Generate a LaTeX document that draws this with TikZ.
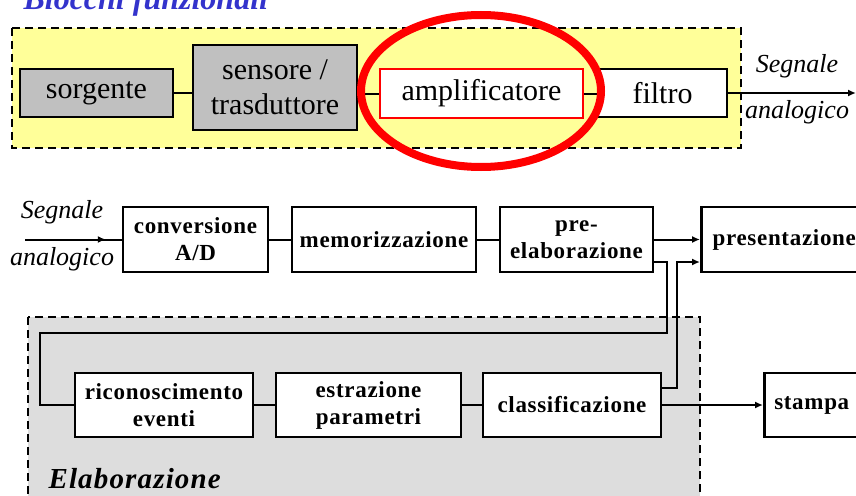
\documentclass[tikz,border=0pt]{standalone}
\usepackage{fontspec}
\setmainfont{Liberation Serif}
\usetikzlibrary{arrows.meta}
\definecolor{titleblue}{RGB}{51,51,204}
\definecolor{boxgray}{RGB}{192,192,192}
\definecolor{areayellow}{RGB}{255,255,153}
\definecolor{areagray}{RGB}{221,221,221}

\begin{document}
\begin{tikzpicture}[%
    x=1pt, y=-1pt,
    block/.style={
      rectangle,
      draw=black,
      line width=2.5pt,
      fill=white,
      align=center,
      inner sep=0pt,
      font=\fontsize{23}{27}\selectfont\bfseries\addfontfeature{LetterSpace=3}
    },
    topblock/.style={
      block,
      fill=boxgray,
      font=\fontsize{30}{35}\selectfont
    },
    wire/.style={
      draw,
      line width=2pt
    },
    line/.style={
      draw,
      line width=2pt,
      -{Latex[length=8pt,width=7pt]}
    },
    group/.style={
      draw=black,
      line width=2.5pt,
      dash pattern=on 8pt off 5pt
    },
    label/.style={
      anchor=base,
      font=\fontsize{26}{30}\selectfont\itshape
    }
  ]
    \useasboundingbox (0,0) rectangle (856,495);
    \clip (0,0) rectangle (856,495);

    % areas
    \draw[group, fill=areayellow] (12,28) rectangle (741,148);
    \draw[group, fill=areagray] (28,317) rectangle (700,530);
    \node[anchor=base west, text=titleblue,
      font=\fontsize{32}{36}\selectfont\bfseries\itshape] (titolo) at (20,10) {Blocchi funzionali};
    \node[anchor=base west,
      font=\fontsize{29}{32}\selectfont\bfseries\itshape\addfontfeature{LetterSpace=4}] (elab) at (45,488) {Elaborazione};

    % blocchi funzionali
    \draw (96.5,93) node[topblock, minimum width=153pt, minimum height=48pt] (sorg) {sorgente};
    \draw (275,87.5) node[topblock, minimum width=164pt, minimum height=85pt] (sens) {sensore /\\trasduttore};
    \draw (481.5,93.5) node[topblock, fill=white, draw=red, line width=1.5pt,
      minimum width=203pt, minimum height=49pt] (ampl) {amplificatore};
    \draw (662.5,93) node[topblock, fill=white, minimum width=129pt, minimum height=48pt] (filt) {filtro};
    \coordinate (out1) at (856,93);

    \draw[wire] (sorg.east) -- (sorg.east -| sens.west);
    \draw[wire] (ampl.west -| sens.east) -- (ampl.west);
    \draw[wire] (ampl.east) -- (ampl.east -| filt.west);
    \draw[line] (filt) -- (out1);
    \node[label] (segn1) at (797,72) {Segnale};
    \node[label] (anal1) at (797,118) {analogico};

    % catena di acquisizione
    \draw (195.5,239.5) node[block, minimum width=145pt, minimum height=65pt] (conv) {conversione\\A/D};
    \draw (384,239.5) node[block, minimum width=184pt, minimum height=65pt] (memo) {memorizzazione};
    \draw (576.5,239.5) node[block, minimum width=153pt, minimum height=65pt] (prel) {pre-\\elaborazione};
    \draw (700,239.5) node[block, anchor=west, minimum width=166pt, minimum height=65pt] (pres) {presentazione};
    \coordinate (in2) at (25,239.5);

    \draw[wire] (in2) -- (conv);
    \draw[line, shorten >=16pt] (in2) -- (conv);
    \node[label] (segn2) at (62,218) {Segnale};
    \node[label] (anal2) at (62,265) {analogico};

    \draw[wire] (conv) -- (memo);
    \draw[wire] (memo) -- (prel);
    \draw[line] (prel) -- (pres);

    % elaborazione
    \draw (164,405) node[block, minimum width=178pt, minimum height=64pt] (rico) {riconoscimento\\eventi};
    \draw (368.5,405) node[block, minimum width=185pt, minimum height=64pt] (estr) {estrazione\\parametri};
    \draw (572,405) node[block, minimum width=178pt, minimum height=64pt] (clas) {classificazione};
    \draw (763,405) node[block, anchor=west, minimum width=95pt, minimum height=64pt] (stam) {stampa};

    \coordinate (fb1) at (667,333);
    \coordinate (fb2) at (40,333);
    \coordinate (up1) at (677,262);

    \draw[wire] ([yshift=-22.5pt]prel.east) -| (fb1) -- (fb2) |- (rico.west);
    \draw[wire] (rico) -- (estr);
    \draw[wire] (estr) -- (clas);
    \draw[line] ([yshift=17pt]clas.east) -| (up1) -- (up1 -| pres.west);
    \draw[line] (clas) -- (stam);

    % evidenziazione
    \draw[red, line width=8pt] (481,91) ellipse [x radius=120pt, y radius=76pt];
  \end{tikzpicture}
\end{document}
